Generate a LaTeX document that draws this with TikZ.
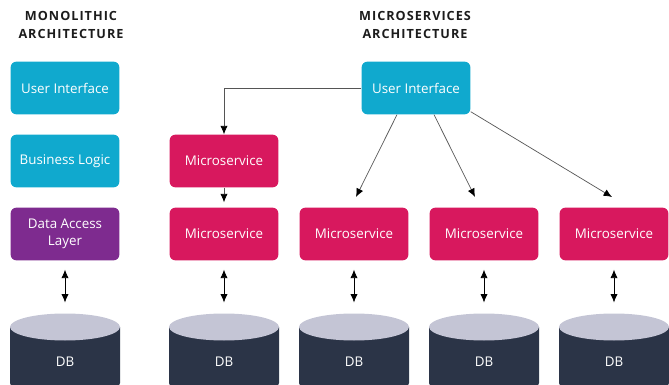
\documentclass[tikz,border=0pt]{standalone}
\usepackage{fontspec}
\setmainfont{Open Sans}
\newfontfamily\titlefont[LetterSpace=8]{Open Sans Bold}
\usetikzlibrary{positioning,arrows.meta}
\definecolor{uicyan}{HTML}{10A9CE}
\definecolor{dalpurple}{HTML}{7E2B8F}
\definecolor{mspink}{HTML}{D8185E}
\definecolor{dbbody}{HTML}{2B3447}
\definecolor{dbtop}{HTML}{C4C5D5}
\definecolor{titlegray}{HTML}{1C1C1C}
\definecolor{linkgray}{HTML}{555555}

\begin{document}
\begin{tikzpicture}[x=0.025cm,y=0.025cm,
  box/.style={rectangle,rounded corners=0.15cm,minimum width=2.72cm,minimum height=1.32cm,
    text=white,font=\fontsize{9.5}{12}\selectfont,align=center,inner sep=0pt},
  uibox/.style={box,fill=uicyan},
  msbox/.style={box,fill=mspink},
  dalbox/.style={box,fill=dalpurple},
  title/.style={font=\titlefont\fontsize{9}{12.5}\selectfont,align=center,text=titlegray},
  dbtext/.style={text=white,font=\fontsize{9.5}{12}\selectfont},
  link/.style={draw=linkgray,line width=0.5pt,-{Latex[length=2.1mm,width=1.8mm,color=black]}},
  dblink/.style={black,line width=0.5pt,{Latex[length=2.1mm,width=1.8mm]}-{Latex[length=2.1mm,width=1.8mm]},
    shorten <=0.225cm,shorten >=0.275cm}]
\useasboundingbox (0,0) rectangle (669,-385);
\clip (0,0) rectangle (669,-385);
%----------------monolithic----------
\node[title] (montitle) at (71,-25) {MONOLITHIC\\ARCHITECTURE};
\node[uibox] (ui1) at (65,-88) {User Interface};
\node[uibox] (bl) at (65,-161) {Business Logic};
\node[dalbox] (dal) at (65,-234) {Data Access\\Layer};
%----------------microservices----------
\node[title] (mstitle) at (415,-25) {MICROSERVICES\\ARCHITECTURE};
\node[uibox] (ui2) at (416,-88) {User Interface};
\node[msbox] (ms1) at (224,-161) {Microservice};
\foreach \c/\n in {224/a,354/b,484/c,614/d}
  \node[msbox] (ms\n) at (\c,-234) {Microservice};
%----------------databases----------
\foreach \c/\n in {65/m,224/a,354/b,484/c,614/d}{
  \fill[dbbody] (\c-55,-327) -- (\c-55,-383) arc (180:360:55 and 13) -- (\c+55,-327) -- cycle;
  \fill[dbtop] (\c,-327) ellipse (55 and 13.5);
  \coordinate (top\n) at (\c,-313.5);
  \node[dbtext] (db\n) at (\c,-362) {DB};
}
\draw[dblink] (dal) -- (topm);
\foreach \n in {a,b,c,d}
  \draw[dblink] (ms\n) -- (top\n);
%----------------links----------
\coordinate (tipb) at (356,-197);
\coordinate (tipc) at (475,-197);
\coordinate (tipd) at (612,-197);
\draw[link] (ui2) -| (ms1);
\draw[link,shorten >=0.125cm] (ms1) -- (msa);
\draw[link] ([xshift=-0.475cm]ui2.south) -- (tipb);
\draw[link] ([xshift=0.45cm]ui2.south) -- (tipc);
\draw[link] ([yshift=0.075cm]ui2.south east) -- (tipd);
\end{tikzpicture}
\end{document}
